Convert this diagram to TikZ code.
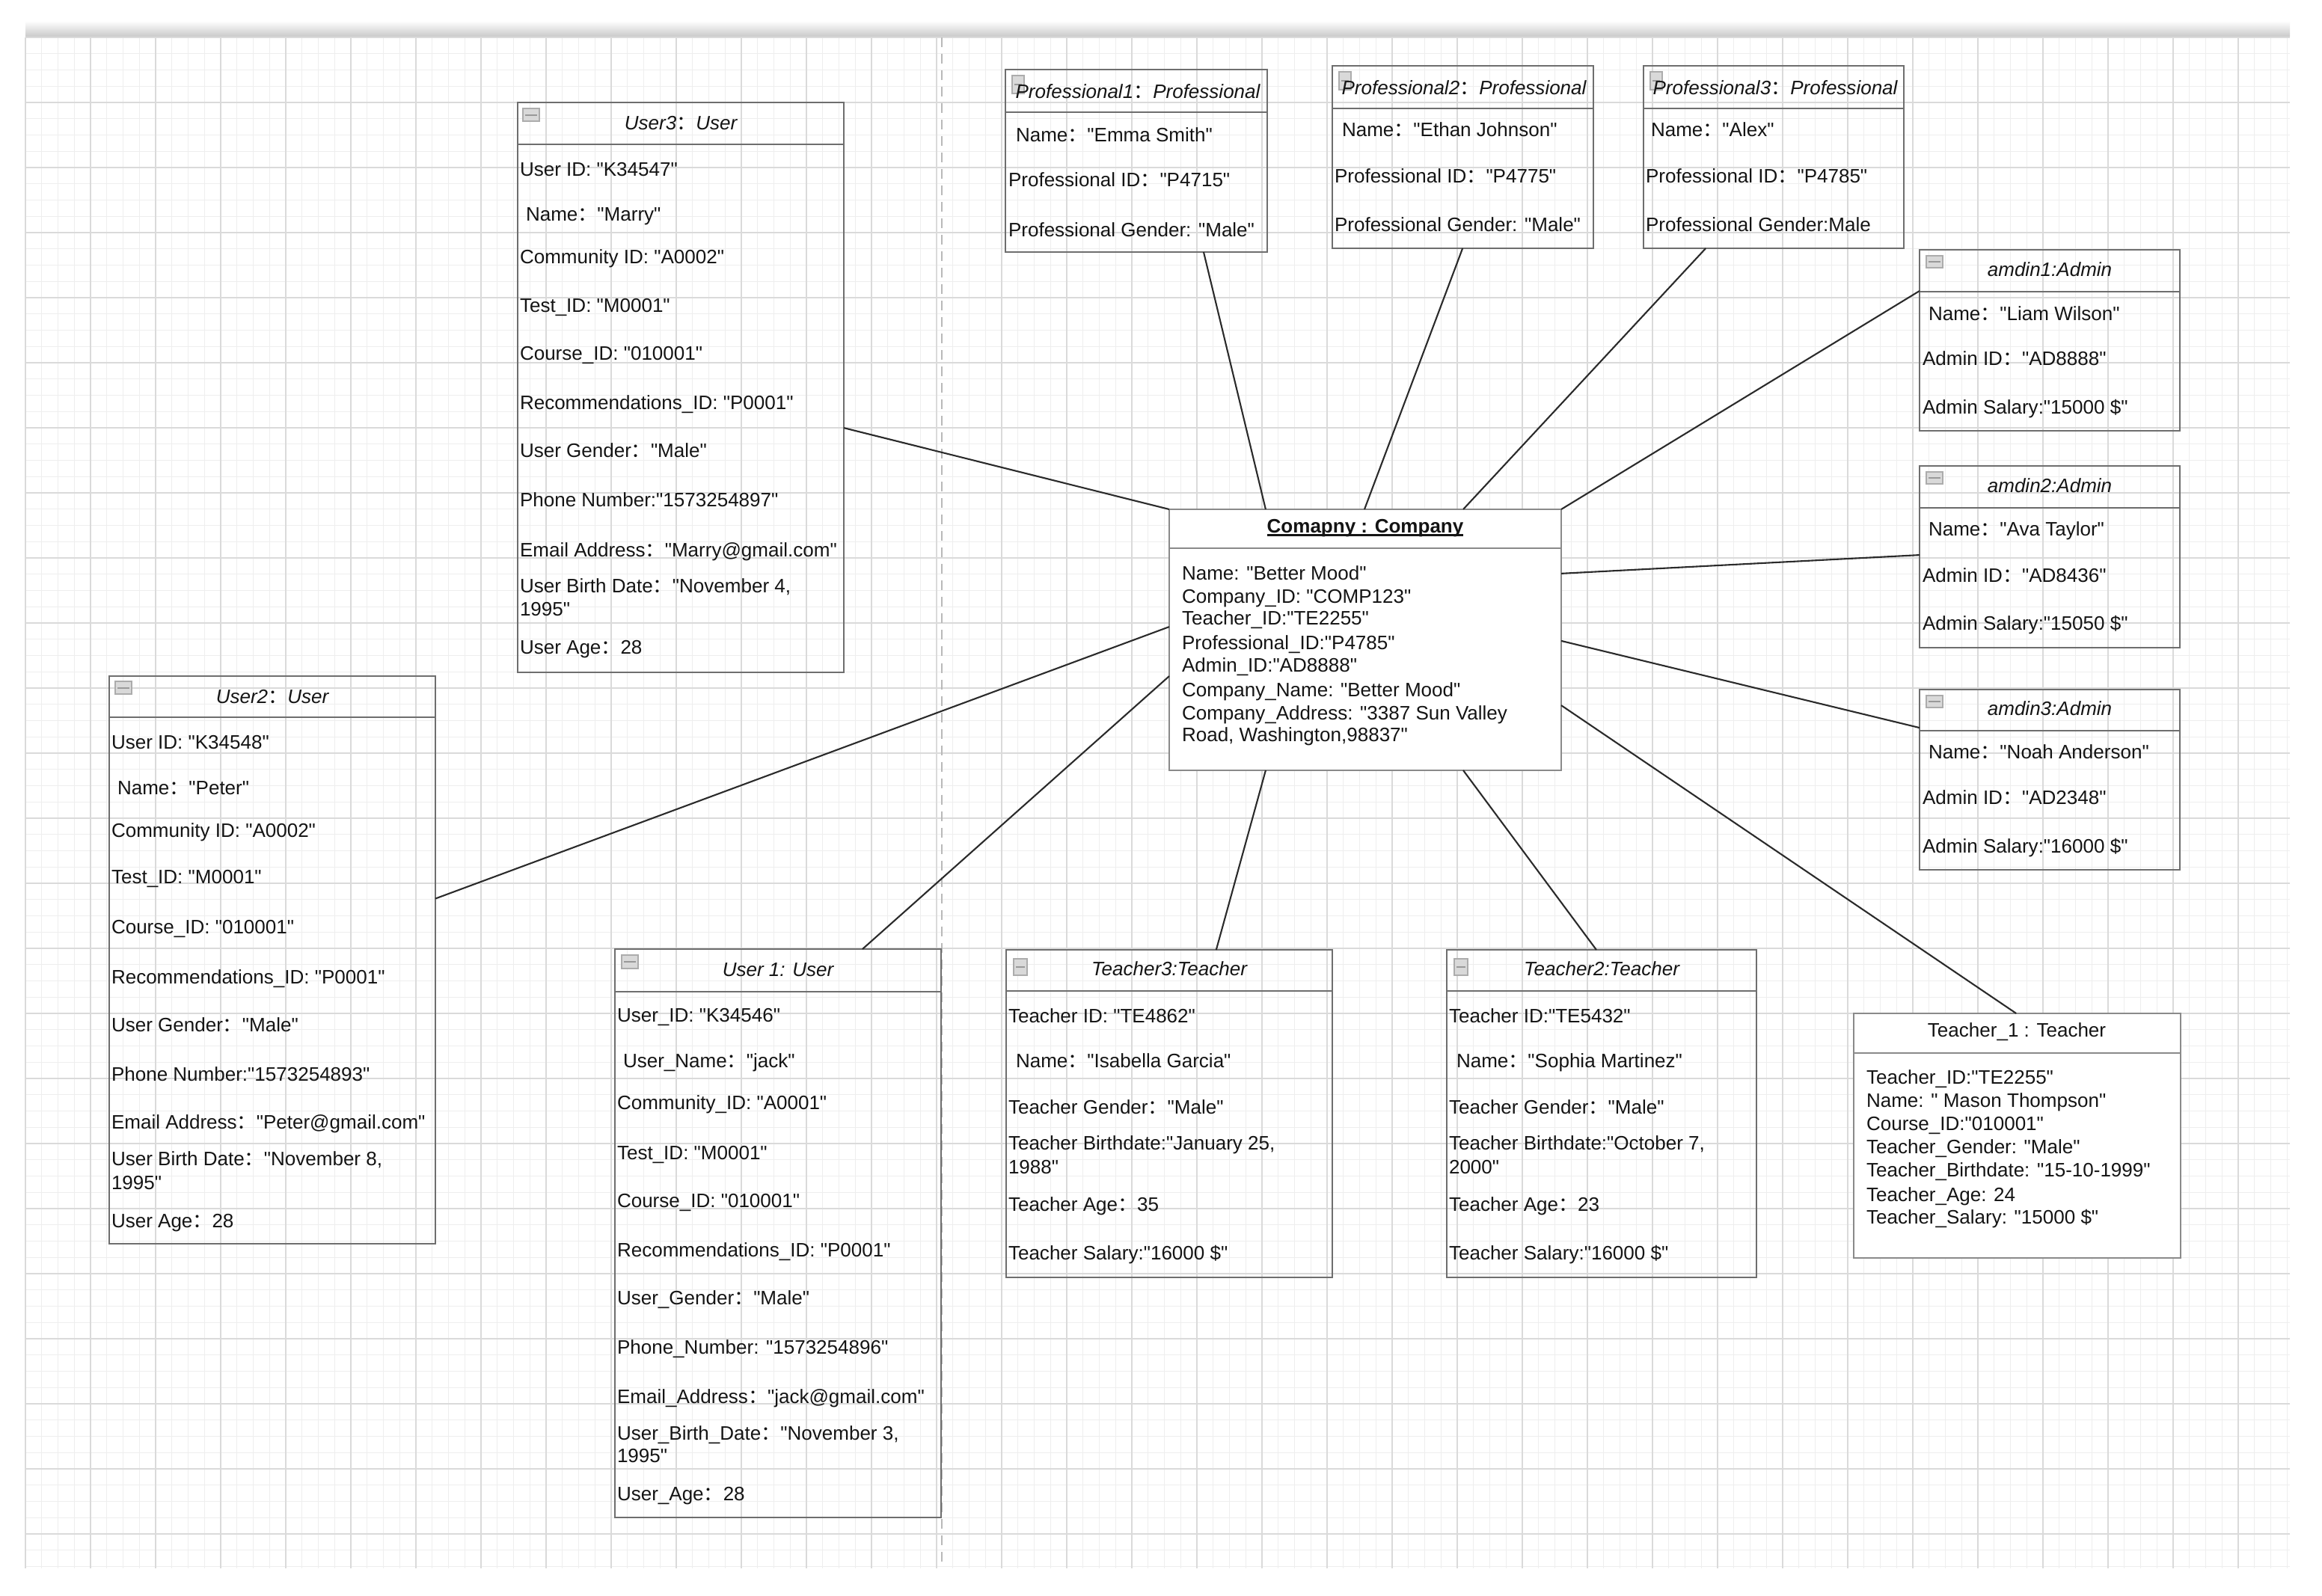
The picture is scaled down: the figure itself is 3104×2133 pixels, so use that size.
\documentclass[tikz,border=0pt]{standalone}
\usepackage{fontspec}
\setmainfont{Liberation Sans}[Ligatures=TeXOff]
\newfontfamily\cjk{Noto Sans CJK SC}
\usetikzlibrary{calc}
\newcommand\fwc{{\cjk ：}}
\newcommand\fs{\fontsize{7.4}{8.9}\selectfont}
\definecolor{boxgray}{HTML}{6E6E6E}
\definecolor{lightbox}{HTML}{8A8A8A}
\definecolor{minorgrid}{HTML}{EEEEEE}
\definecolor{majorgrid}{HTML}{DADADA}
\definecolor{txtc}{HTML}{141414}
\definecolor{connc}{HTML}{2A2A2A}
\tikzset{
  objbox/.style={draw=boxgray, line width=0.024cm, anchor=north west, inner sep=0, outer sep=0},
  sepline/.style={draw=boxgray, line width=0.024cm},
  txt/.style={anchor=base west, inner sep=0, outer sep=0, font=\fs, text=txtc},
  hdr/.style={anchor=base, inner sep=0, outer sep=0, font=\fs\itshape, text=txtc},
  conn/.style={draw=connc, line width=0.021cm},
  iconst/.style={draw=gray!65, fill=gray!30, line width=0.012cm},
  iconln/.style={draw=gray!80, line width=0.02cm},
  minorg/.style={draw=minorgrid, line width=0.012cm},
  majorg/.style={draw=majorgrid, line width=0.02cm}
}
\newcommand\mkbox[7][]{%
  \node[objbox,#1, minimum width=#5*0.01cm, minimum height=#6*0.01cm] (#2) at (#3,#4) {};
  \draw[sepline,#1] ([yshift=-#7*0.01cm]#2.north west) -- ([yshift=-#7*0.01cm]#2.north east);
}
\newcommand\mkicon[5]{%
  \draw[iconst] ([shift={(#2,#3)}]#1.north west) rectangle ++(#4,#5);
  \draw[iconln] ([shift={(#2+3,#3+#5/2)}]#1.north west) -- ++(#4-6,0);
}
\begin{document}
\begin{tikzpicture}[x=0.01cm, y=-0.01cm]
\useasboundingbox (0,0) rectangle (3104,2133);
\fill[white] (0,0) rectangle (3104,2133);
% top bar
\shade[top color=white, bottom color=gray!40] (34,28) rectangle (3061,48);
% grid
\foreach \i in {0,...,139} {\draw[minorg] ({34+21.75*\i},50) -- ({34+21.75*\i},2097);}
\foreach \j in {0,...,94} {\draw[minorg] (34,{50+21.75*\j}) -- (3061,{50+21.75*\j});}
\foreach \i in {0,...,34} {\draw[majorg] ({34+87*\i},50) -- ({34+87*\i},2097);}
\foreach \j in {0,...,23} {\draw[majorg] (34,{50+87*\j}) -- (3061,{50+87*\j});}
\draw[gray!55, line width=0.02cm, dash pattern=on 0.13cm off 0.09cm] (1259,50) -- (1259,2097);

% ---------- boxes ----------
\mkbox{u3}{692}{137}{436}{762}{56}
\mkbox{u2}{146}{904}{436}{759}{55}
\mkbox{u1}{822}{1269}{436}{760}{57}
\mkbox{p1}{1344}{93}{350}{244}{57}
\mkbox{p2}{1781}{88}{349}{244}{57}
\mkbox{p3}{2197}{88}{348}{244}{57}
\mkbox{a1}{2566}{334}{348}{242}{56}
\mkbox{a2}{2566}{623}{348}{243}{56}
\mkbox{a3}{2566}{922}{348}{241}{55}
\mkbox{t3}{1345}{1270}{436}{438}{55}
\mkbox{t2}{1934}{1270}{414}{438}{55}
\mkbox[fill=white, draw=lightbox]{t1}{2478}{1355}{437}{327}{53}
\mkbox[fill=white, draw=lightbox]{co}{1563}{681}{524}{349}{52}

% ---------- icons ----------
\mkicon{u3}{7}{8}{22}{17}
\mkicon{u2}{8}{7}{22}{17}
\mkicon{u1}{9}{8}{22}{18}
\mkicon{p1}{9}{8}{16}{24}
\mkicon{p2}{9}{8}{16}{24}
\mkicon{p3}{9}{8}{16}{24}
\mkicon{a1}{9}{8}{22}{16}
\mkicon{a2}{9}{8}{22}{16}
\mkicon{a3}{9}{8}{22}{16}
\mkicon{t3}{10}{12}{18}{22}
\mkicon{t2}{10}{12}{18}{22}

% ---------- headers ----------
\node[hdr] (u3h) at (910,173) {User3\fwc User};
\node[hdr] (u2h) at (364,940) {User2\fwc User};
\node[hdr] (u1h) at (1040,1305) {User 1: User};
\node[hdr] (p1h) at (1521,131) {Professional1\fwc Professional};
\node[hdr] (p2h) at (1957,126) {Professional2\fwc Professional};
\node[hdr] (p3h) at (2373,126) {Professional3\fwc Professional};
\node[hdr] (a1h) at (2740,369) {amdin1:Admin};
\node[hdr] (a2h) at (2740,658) {amdin2:Admin};
\node[hdr] (a3h) at (2740,956) {amdin3:Admin};
\node[hdr] (t3h) at (1563,1304) {Teacher3:Teacher};
\node[hdr] (t2h) at (2141,1304) {Teacher2:Teacher};
\node[hdr, font=\fs] (t1h) at (2696,1386) {Teacher\_1 : Teacher};
\node[hdr, font=\fs\bfseries] (coh) at (1825,712) {Comapny : Company};
\draw[txtc, line width=0.022cm] ([yshift=-0.035cm]coh.base west) -- ([yshift=-0.035cm]coh.base east);

% ---------- attribute lines ----------
\foreach \x/\y/\t [count=\i] in {
  695/226/{User ID: "K34547"},
  703/286/{Name\fwc"Marry"},
  695/343/{Community ID: "A0002"},
  695/408/{Test\_ID: "M0001"},
  695/472/{Course\_ID: "010001"},
  695/538/{Recommendations\_ID: "P0001"},
  695/602/{User Gender\fwc"Male"},
  695/668/{Phone Number:"1573254897"},
  695/735/{Email Address\fwc"Marry@gmail.com"},
  695/783/{User Birth Date\fwc"November 4,},
  695/814/{1995"},
  695/865/{User Age\fwc 28}}
  {\node[txt] (u3-\i) at (\x,\y+9) {\t};}

\foreach \x/\y/\t [count=\i] in {
  149/992/{User ID: "K34548"},
  157/1053/{Name\fwc"Peter"},
  149/1110/{Community ID: "A0002"},
  149/1172/{Test\_ID: "M0001"},
  149/1239/{Course\_ID: "010001"},
  149/1306/{Recommendations\_ID: "P0001"},
  149/1370/{User Gender\fwc"Male"},
  149/1436/{Phone Number:"1573254893"},
  149/1500/{Email Address\fwc"Peter@gmail.com"},
  149/1549/{User Birth Date\fwc"November 8,},
  149/1581/{1995"},
  149/1632/{User Age\fwc 28}}
  {\node[txt] (u2-\i) at (\x,\y+9) {\t};}

\foreach \x/\y/\t [count=\i] in {
  825/1357/{User\_ID: "K34546"},
  833/1418/{User\_Name\fwc"jack"},
  825/1474/{Community\_ID: "A0001"},
  825/1541/{Test\_ID: "M0001"},
  825/1605/{Course\_ID: "010001"},
  825/1671/{Recommendations\_ID: "P0001"},
  825/1735/{User\_Gender\fwc"Male"},
  825/1801/{Phone\_Number: "1573254896"},
  825/1867/{Email\_Address\fwc"jack@gmail.com"},
  825/1916/{User\_Birth\_Date\fwc"November 3,},
  825/1946/{1995"},
  825/1997/{User\_Age\fwc 28}}
  {\node[txt] (u1-\i) at (\x,\y+9) {\t};}

\foreach \x/\y/\t [count=\i] in {
  1358/180/{Name\fwc"Emma Smith"},
  1348/240/{Professional ID\fwc"P4715"},
  1348/307/{Professional Gender: "Male"}}
  {\node[txt] (p1-\i) at (\x,\y+9) {\t};}
\foreach \x/\y/\t [count=\i] in {
  1794/173/{Name\fwc"Ethan Johnson"},
  1784/235/{Professional ID\fwc"P4775"},
  1784/300/{Professional Gender: "Male"}}
  {\node[txt] (p2-\i) at (\x,\y+9) {\t};}
\foreach \x/\y/\t [count=\i] in {
  2207/173/{Name\fwc"Alex"},
  2200/235/{Professional ID\fwc"P4785"},
  2200/300/{Professional Gender:Male}}
  {\node[txt] (p3-\i) at (\x,\y+9) {\t};}

\foreach \x/\y/\t [count=\i] in {
  2578/419/{Name\fwc"Liam Wilson"},
  2570/479/{Admin ID\fwc"AD8888"},
  2570/544/{Admin Salary:"15000 \$"}}
  {\node[txt] (a1-\i) at (\x,\y+9) {\t};}
\foreach \x/\y/\t [count=\i] in {
  2578/707/{Name\fwc"Ava Taylor"},
  2570/769/{Admin ID\fwc"AD8436"},
  2570/833/{Admin Salary:"15050 \$"}}
  {\node[txt] (a2-\i) at (\x,\y+9) {\t};}
\foreach \x/\y/\t [count=\i] in {
  2578/1005/{Name\fwc"Noah Anderson"},
  2570/1066/{Admin ID\fwc"AD2348"},
  2570/1131/{Admin Salary:"16000 \$"}}
  {\node[txt] (a3-\i) at (\x,\y+9) {\t};}

\foreach \x/\y/\t [count=\i] in {
  1348/1358/{Teacher ID: "TE4862"},
  1358/1418/{Name\fwc"Isabella Garcia"},
  1348/1480/{Teacher Gender\fwc"Male"},
  1348/1528/{Teacher Birthdate:"January 25,},
  1348/1560/{1988"},
  1348/1610/{Teacher Age\fwc 35},
  1348/1675/{Teacher Salary:"16000 \$"}}
  {\node[txt] (t3-\i) at (\x,\y+9) {\t};}
\foreach \x/\y/\t [count=\i] in {
  1937/1358/{Teacher ID:"TE5432"},
  1947/1418/{Name\fwc"Sophia Martinez"},
  1937/1480/{Teacher Gender\fwc"Male"},
  1937/1528/{Teacher Birthdate:"October 7,},
  1937/1560/{2000"},
  1937/1610/{Teacher Age\fwc 23},
  1937/1675/{Teacher Salary:"16000 \$"}}
  {\node[txt] (t2-\i) at (\x,\y+9) {\t};}

\foreach \x/\y/\t [count=\i] in {
  2495/1440/{Teacher\_ID:"TE2255"},
  2495/1471/{Name: " Mason Thompson"},
  2495/1502/{Course\_ID:"010001"},
  2495/1533/{Teacher\_Gender: "Male"},
  2495/1564/{Teacher\_Birthdate: "15-10-1999"},
  2495/1597/{Teacher\_Age: 24},
  2495/1627/{Teacher\_Salary: "15000 \$"}}
  {\node[txt] (t1-\i) at (\x,\y+9) {\t};}

\foreach \x/\y/\t [count=\i] in {
  1580/766/{Name: "Better Mood"},
  1580/797/{Company\_ID: "COMP123"},
  1580/826/{Teacher\_ID:"TE2255"},
  1580/859/{Professional\_ID:"P4785"},
  1580/889/{Admin\_ID:"AD8888"},
  1580/922/{Company\_Name: "Better Mood"},
  1580/953/{Company\_Address: "3387 Sun Valley},
  1580/982/{Road, Washington,98837"}}
  {\node[txt] (co-\i) at (\x,\y+9) {\t};}

% ---------- connectors ----------
\draw[conn] ($(u3.north east)!0.571!(u3.south east)$) -- (co.north west);
\draw[conn] ($(u2.north east)!0.392!(u2.south east)$) -- ($(co.north west)!0.45!(co.south west)$);
\draw[conn] ($(u1.north west)!0.759!(u1.north east)$) -- ($(co.north west)!0.639!(co.south west)$);
\draw[conn] ($(t3.north west)!0.644!(t3.north east)$) -- ($(co.south west)!0.246!(co.south east)$);
\draw[conn] ($(t2.north west)!0.483!(t2.north east)$) -- ($(co.south west)!0.75!(co.south east)$);
\draw[conn] ($(t1.north west)!0.497!(t1.north east)$) -- ($(co.north east)!0.751!(co.south east)$);
\draw[conn] ($(a3.north west)!0.212!(a3.south west)$) -- ($(co.north east)!0.504!(co.south east)$);
\draw[conn] ($(a2.north west)!0.49!(a2.south west)$) -- ($(co.north east)!0.246!(co.south east)$);
\draw[conn] ($(a1.north west)!0.227!(a1.south west)$) -- (co.north east);
\draw[conn] ($(p3.south west)!0.239!(p3.south east)$) -- ($(co.north west)!0.75!(co.north east)$);
\draw[conn] ($(p2.south west)!0.499!(p2.south east)$) -- ($(co.north west)!0.498!(co.north east)$);
\draw[conn] ($(p1.south west)!0.757!(p1.south east)$) -- ($(co.north west)!0.246!(co.north east)$);
\end{tikzpicture}
\end{document}
